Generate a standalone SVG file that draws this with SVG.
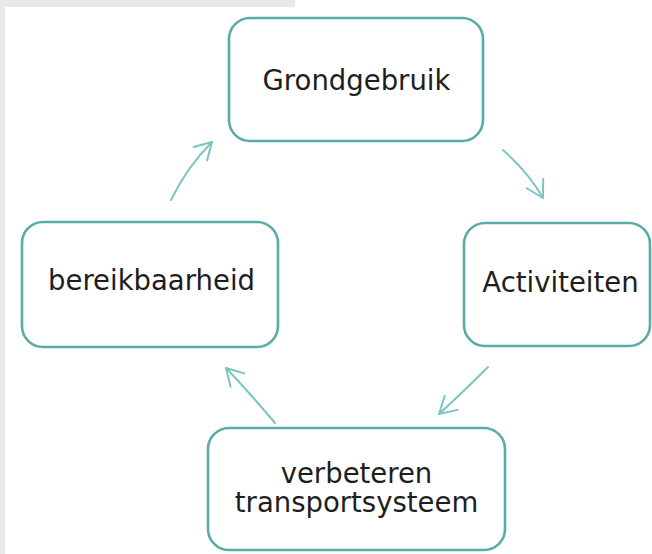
<svg xmlns="http://www.w3.org/2000/svg" width="652" height="554" viewBox="0 0 652 554">
  <style>
    .box { fill: #ffffff; stroke: #5aaca7; stroke-width: 2.6; }
    .label { font-family: "DejaVu Sans", Verdana, sans-serif; font-size: 27.5px; fill: #1e1e1e; text-anchor: middle; }
    .flow { fill: none; stroke: #7cc5c0; stroke-width: 2; stroke-linecap: round; }
  </style>
  <defs>
    <marker id="head" markerUnits="userSpaceOnUse" viewBox="-20 -12 22 24" markerWidth="22" markerHeight="24" refX="0" refY="0" orient="auto">
      <path d="M -16.5 -9.5 L 0 0 L -16.5 9.5" fill="none" stroke="#7cc5c0" stroke-width="2" stroke-linecap="round" stroke-linejoin="round"/>
    </marker>
  </defs>

  <!-- page background with grey frame strips -->
  <rect x="0" y="0" width="652" height="554" fill="#ffffff"/>
  <rect x="0" y="0" width="295" height="7" fill="#e8e9eb"/>
  <rect x="0" y="0" width="5" height="554" fill="#e8e9eb"/>

  <g id="connectors">
    <path class="flow" d="M 171 200 Q 187 167 212 142" marker-end="url(#head)"/>
    <path class="flow" d="M 503 150 Q 529 173 543 198" marker-end="url(#head)"/>
    <path class="flow" d="M 488 367 Q 462 393 439 414" marker-end="url(#head)"/>
    <path class="flow" d="M 275 423 Q 248 391 226 368" marker-end="url(#head)"/>
  </g>

  <g id="grondgebruik">
    <rect class="box" x="229" y="18" width="254" height="123" rx="21"/>
    <text class="label" x="356.5" y="90">Grondgebruik</text>
  </g>

  <g id="activiteiten">
    <rect class="box" x="464" y="223" width="186" height="123" rx="21"/>
    <text class="label" x="560.5" y="292">Activiteiten</text>
  </g>

  <g id="bereikbaarheid">
    <rect class="box" x="22" y="222" width="256" height="125" rx="21"/>
    <text class="label" x="151.5" y="290">bereikbaarheid</text>
  </g>

  <g id="transportsysteem">
    <rect class="box" x="208" y="428" width="297" height="122" rx="21"/>
    <text class="label" x="356.5" y="483">verbeteren</text>
    <text class="label" x="356.5" y="512">transportsysteem</text>
  </g>
</svg>
